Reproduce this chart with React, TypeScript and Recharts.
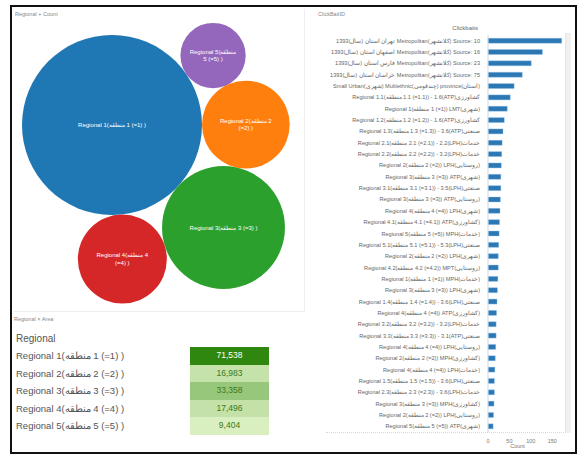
import React from 'react';
import { ScatterChart, Scatter, XAxis, YAxis, BarChart, Bar } from 'recharts';

// regional totals (bubbles + table)
const regions = [
  'Regional 1(منطقه 1 (=1) )',
  'Regional 2(منطقه 2 (=2) )',
  'Regional 3(منطقه 3 (=3) )',
  'Regional 4(منطقه 4 (=4) )',
  'Regional 5(منطقه 5 (=5) )',
];
const regionCounts = [71538, 16983, 33358, 17496, 9404];
const regionColors = ['#1f77b4', '#ff7f0e', '#2ca02c', '#d62728', '#9467bd'];

// per-source counts (right panel)
const sourceLabels = [
  '1393(سال) استان تهران Metropolitan(کلانشهر) Source: 10',
  '1393(سال) استان اصفهان Metropolitan(کلانشهر) Source: 16',
  '1393(سال) استان فارس Metropolitan(کلانشهر) Source: 23',
  '1393(سال) استان خراسان Metropolitan(کلانشهر) Source: 75',
  'Small Urban(شهری) Multiethnic(چندقومی) province(استان)',
  'Regional 1.1(منطقه 1.1 (=1.1)) - 1.6(ATP)کشاورزی',
  'Regional 1(منطقه 1 (=1)) LMT(شهری)',
  'Regional 1.2(منطقه 1.2 (=1.2)) - 1.6(ATP)کشاورزی',
  'Regional 1.3(منطقه 1.3 (=1.3)) - 3.6(ATP)صنعتی',
  'Regional 2.1(منطقه 2.1 (=2.1)) - 2.2(LPH)خدمات',
  'Regional 2.2(منطقه 2.2 (=2.2)) - 3.2(LPH)خدمات',
  'Regional 2(منطقه 2 (=2)) LPH(روستایی)',
  'Regional 3(منطقه 3 (=3)) ATP(شهری)',
  'Regional 3.1(منطقه 3.1 (=3.1)) - 3.5(LPH)صنعتی',
  'Regional 3(منطقه 3 (=3)) ATP(روستایی)',
  'Regional 4(منطقه 4 (=4)) LPH(شهری)',
  'Regional 4.1(منطقه 4.1 (=4.1)) ATP(کشاورزی)',
  'Regional 5(منطقه 5 (=5)) MPH(خدمات)',
  'Regional 5.1(منطقه 5.1 (=5.1)) - 5.3(LPH)صنعتی',
  'Regional 2(منطقه 2 (=2)) LPH(شهری)',
  'Regional 4.2(منطقه 4.2 (=4.2)) MPT(روستایی)',
  'Regional 1(منطقه 1 (=1)) MPH(خدمات)',
  'Regional 3(منطقه 3 (=3)) LPH(شهری)',
  'Regional 1.4(منطقه 1.4 (=1.4)) - 3.6(LPH)صنعتی',
  'Regional 4(منطقه 4 (=4)) ATP(کشاورزی)',
  'Regional 3.2(منطقه 3.2 (=3.2)) - 3.2(LPH)خدمات',
  'Regional 3.3(منطقه 3.3 (=3.3)) - 3.1(ATP)صنعتی',
  'Regional 4(منطقه 4 (=4)) LPH(روستایی)',
  'Regional 2(منطقه 2 (=2)) MPH(کشاورزی)',
  'Regional 4(منطقه 4 (=4)) LPH(خدمات)',
  'Regional 1.5(منطقه 1.5 (=1.5)) - 3.6(LPH)صنعتی',
  'Regional 2.3(منطقه 2.3 (=2.3)) - 3.6(LPH)خدمات',
  'Regional 3(منطقه 3 (=3)) MPH(کشاورزی)',
  'Regional 2(منطقه 2 (=2)) LPH(روستایی)',
  'Regional 5(منطقه 5 (=5)) ATP(شهری)',
];
const sourceCounts = [
  172, 127, 101, 80, 61, 52, 45, 38, 35, 33, 32,
  31, 30, 30, 29, 28, 27, 26, 25, 24, 24, 23, 22,
  21, 20, 19, 19, 18, 17, 16, 15, 15, 14, 13, 12,
];
const countTicks = [0, 50, 100, 150];

const FONT = '"Liberation Sans", Arial, sans-serif';

// keep the mixed persian/latin labels reading left to right
const ltr = (s: string) => '\u200E' + s.replace(/([\u0600-\u06FF]+)/g, '$1\u200E');

// --- simple packed-bubble layout: radius ~ sqrt(value), each circle tangent to two placed ones
const PX_PER_SQRT = 0.3365;
const BW = 292;
const BH = 290;

type Pt = { x: number; y: number };
function tangentTo(a: Pt, ra: number, b: Pt, rb: number, r: number, side: number): Pt {
  const dx = b.x - a.x;
  const dy = b.y - a.y;
  const d = Math.hypot(dx, dy);
  const ux = dx / d;
  const uy = dy / d;
  const da = ra + r;
  const db = rb + r;
  const along = (da * da - db * db + d * d) / (2 * d);
  const h = Math.sqrt(Math.max(0, da * da - along * along));
  return { x: a.x + along * ux - side * h * uy, y: a.y + along * uy + side * h * ux };
}

function packBubbles() {
  const r = regionCounts.map((v) => PX_PER_SQRT * Math.sqrt(v));
  const p: Pt[] = [];
  p[0] = { x: 98, y: 105 };
  const ang = (42.6 * Math.PI) / 180;
  p[2] = { x: p[0].x + (r[0] + r[2]) * Math.cos(ang), y: p[0].y + (r[0] + r[2]) * Math.sin(ang) };
  p[3] = tangentTo(p[0], r[0], p[2], r[2], r[3], 1);
  p[1] = tangentTo(p[0], r[0], p[2], r[2], r[1], -1);
  p[4] = tangentTo(p[0], r[0], p[1], r[1], r[4], -1);
  return regions.map((name, i) => ({
    name,
    value: regionCounts[i],
    color: regionColors[i],
    r: r[i],
    x: p[i].x,
    y: p[i].y,
  }));
}
const bubbles = packBubbles();

function wrapLabel(text: string, maxW: number, charW: number): string[] {
  const words = text.split(' ');
  const lines: string[] = [];
  let cur = '';
  words.forEach((w) => {
    const next = cur ? cur + ' ' + w : w;
    if (next.length * charW > maxW && cur) {
      lines.push(cur);
      cur = w;
    } else cur = next;
  });
  if (cur) lines.push(cur);
  return lines;
}

const BubbleShape = (props: any) => {
  const { cx, cy, payload } = props;
  const r = payload.r;
  const lines = wrapLabel(payload.name, r * 1.7, 3.3);
  return (
    <g>
      <circle cx={cx} cy={cy} r={r} fill={payload.color} />
      <text x={cx} y={cy} textAnchor="middle" fontSize={6} fill="#fff" fontFamily={FONT}>
        {lines.map((l, i) => (
          <tspan key={i} x={cx} dy={i === 0 ? 2 - ((lines.length - 1) * 7.5) / 2 : 7.5}>
            {ltr(l)}
          </tspan>
        ))}
      </text>
    </g>
  );
};

const SourceTick = ({ x, y, payload }: any) => (
  <text x={x} y={y} dy={2} textAnchor="end" fontSize={5.6} fill="#666" fontFamily={FONT}>
    {ltr(payload.value)}
  </text>
);

const minC = Math.min(...regionCounts);
const maxC = Math.max(...regionCounts);
function heat(v: number) {
  const t = (v - minC) / (maxC - minC);
  const lo = [217, 239, 191];
  const hi = [47, 135, 15];
  const c = lo.map((l, i) => Math.round(l + (hi[i] - l) * t));
  return { bg: `rgb(${c[0]},${c[1]},${c[2]})`, fg: t > 0.6 ? '#fff' : '#3b7a1a' };
}

const barData = sourceLabels.map((name, i) => ({ name, count: sourceCounts[i] }));

const App: React.FC = () => {
  return (
    <div style={{ position: 'absolute', left: 0, top: 0, width: 579, height: 455, background: '#fff', fontFamily: FONT, overflow: 'hidden' }}>
      {/* outer frame */}
      <div style={{ position: 'absolute', left: 10, top: 5, width: 563, height: 445, border: '2px solid #111' }} />

      {/* left top: packed bubbles */}
      <div style={{ position: 'absolute', left: 14, top: 9, width: 290, height: 302, borderRight: '1px solid #eee', borderBottom: '1px solid #eee' }} />
      <div style={{ position: 'absolute', left: 15, top: 11, fontSize: 5.5, color: '#888' }}>Regional + Count</div>
      <div style={{ position: 'absolute', left: 14, top: 20 }}>
        <ScatterChart width={BW} height={BH} margin={{ top: 0, right: 0, bottom: 0, left: 0 }}>
          <XAxis type="number" dataKey="x" domain={[0, BW]} hide allowDataOverflow />
          <YAxis type="number" dataKey="y" domain={[0, BH]} hide reversed allowDataOverflow />
          <Scatter data={bubbles} shape={BubbleShape} isAnimationActive={false} />
        </ScatterChart>
      </div>

      {/* left bottom: table */}
      <div style={{ position: 'absolute', left: 14, top: 316, fontSize: 5.5, color: '#888' }}>Regional × Area</div>
      <div style={{ position: 'absolute', left: 16, top: 333, fontSize: 10, color: '#555' }}>Regional</div>
      {regions.map((name, i) => {
        const h = heat(regionCounts[i]);
        return (
          <React.Fragment key={name}>
            <div style={{ position: 'absolute', left: 16, top: 347 + i * 17.6, height: 17.6, lineHeight: '17.6px', fontSize: 9.5, color: '#555', whiteSpace: 'nowrap' }}>
              {ltr(name)}
            </div>
            <div style={{ position: 'absolute', left: 190, top: 347 + i * 17.6, width: 79, height: 17.6, lineHeight: '17.6px', background: h.bg, color: h.fg, fontSize: 8.5, textAlign: 'center' }}>
              {regionCounts[i].toLocaleString('en-US')}
            </div>
          </React.Fragment>
        );
      })}

      {/* right: bars by source */}
      <div style={{ position: 'absolute', left: 318, top: 11, fontSize: 5.5, color: '#888' }}>ClickBaitID</div>
      <div style={{ position: 'absolute', left: 430, top: 25, width: 48, textAlign: 'right', fontSize: 6, color: '#666' }}>Clickbaits</div>
      <div style={{ position: 'absolute', left: 565, top: 33, width: 5, height: 400, background: '#f0f0f0', borderLeft: '1px solid #e4e4e4' }} />
      <div style={{ position: 'absolute', left: 326, top: 432, width: 238, borderTop: '1px dotted #d8d8d8' }} />
      <div style={{ position: 'absolute', left: 316, top: 20 }}>
        <BarChart
          width={252}
          height={430}
          layout="vertical"
          data={barData}
          barCategoryGap="28%"
          margin={{ top: 15, right: 5, bottom: 0, left: 0 }}
        >
          <XAxis
            type="number"
            domain={[0, 175]}
            ticks={countTicks}
            height={18}
            tick={{ fontSize: 5.5, fill: '#777', fontFamily: FONT }}
            tickLine={false}
            axisLine={false}
            tickMargin={1}
            label={{ value: 'Count', position: 'insideBottom', offset: 2, fontSize: 5.5, fill: '#777', dx: -8 }}
          />
          <YAxis
            type="category"
            dataKey="name"
            width={172}
            interval={0}
            tick={<SourceTick />}
            tickLine={false}
            axisLine={{ stroke: '#c9dcec' }}
          />
          <Bar dataKey="count" fill="#2b78b5" stroke="#9cc6e8" strokeWidth={0.4} isAnimationActive={false} />
        </BarChart>
      </div>
    </div>
  );
};

export default App;
